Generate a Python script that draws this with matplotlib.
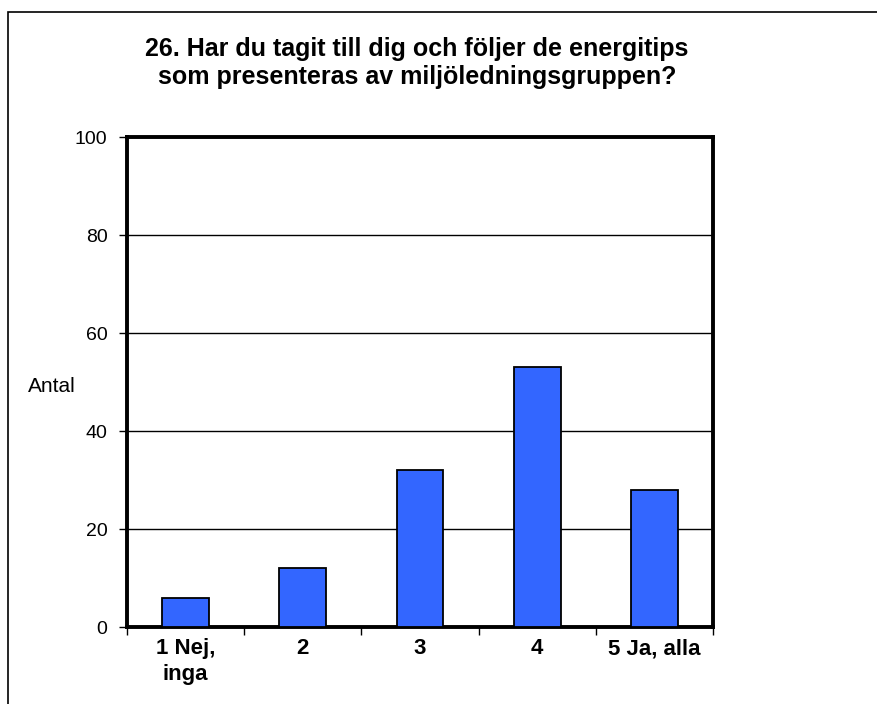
import matplotlib.pyplot as plt
from matplotlib.patches import Rectangle
import numpy as np

plt.rcParams['font.family'] = ['Liberation Sans', 'DejaVu Sans']

# Data
categories = ['1 Nej,\ninga', '2', '3', '4', '5 Ja, alla']
counts = [6, 12, 32, 53, 28]
yticks = [0, 20, 40, 60, 80, 100]

fig = plt.figure(figsize=(8.77, 7.04), dpi=100)
ax = fig.add_axes([127/877, 1 - 627/704, (713-127)/877, (627-137)/704])

x = np.arange(len(categories))
ax.bar(x, counts, width=0.4, color='#3366FF', edgecolor='black', linewidth=1.3, zorder=3)

ax.set_xlim(-0.5, len(categories) - 0.5)
ax.set_ylim(0, 100)
ax.set_yticks(yticks)
ax.set_yticklabels([str(v) for v in yticks], fontsize=14)
ax.yaxis.grid(True, color='black', linewidth=1)
ax.set_axisbelow(True)

# category ticks at boundaries, labels at centres
ax.set_xticks(np.arange(-0.5, len(categories)), minor=False)
ax.set_xticklabels([])
ax.set_xticks(x, minor=True)
ax.set_xticklabels(categories, minor=True, fontsize=16, fontweight='bold', linespacing=1.3)
ax.tick_params(axis='x', which='minor', length=0, pad=8)
ax.tick_params(axis='x', which='major', length=6, width=1, direction='out')
ax.tick_params(axis='y', length=6, width=1, direction='out', pad=8)

for s in ax.spines.values():
    s.set_linewidth(2.8)
    s.set_color('black')

fig.text(52/877, 1 - 387/704, 'Antal', fontsize=15, ha='center', va='center')

fig.text(417/877, 1 - 63/704,
         '26. Har du tagit till dig och följer de energitips\nsom presenteras av miljöledningsgruppen?',
         ha='center', va='center', fontsize=18, fontweight='bold', linespacing=1.25)

# outer chart border (left and top visible)
fig.add_artist(Rectangle((8/877, -0.1), 1.2, 1 - 12/704 + 0.1, transform=fig.transFigure,
                         fill=False, edgecolor='black', linewidth=1.2))

fig.savefig('out.png', dpi=100)
